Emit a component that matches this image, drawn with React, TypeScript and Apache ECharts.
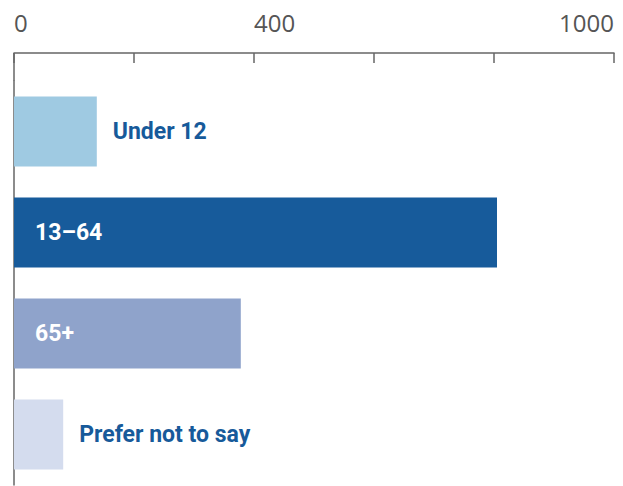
import React, { useEffect, useRef } from "react";
import * as echarts from "echarts";

const categories = ["Under 12", "13–64", "65+", "Prefer not to say"];
const values = [138, 805, 378, 82];
const barColors = ["#9fcae2", "#175b9b", "#8fa3cb", "#d4dcee"];
const labelInside = [false, true, true, false];
const tickLabels = ["0", "400", "1000"];

const GRID_LEFT = 14;
const GRID_TOP = 81;
const AXIS_TOP = 53;

export default function App() {
  const ref = useRef<HTMLDivElement>(null);
  useEffect(() => {
    document.body.style.margin = "0";
    const chart = echarts.init(ref.current!, null, { renderer: "svg" });
    const data = values.map((v, i) => ({
      value: v,
      itemStyle: { color: barColors[i] },
      label: labelInside[i]
        ? { position: "insideLeft", distance: 21, color: "#ffffff" }
        : { position: "right", distance: 16, color: "#175a9a" },
    }));
    chart.setOption({
      animation: false,
      grid: { left: GRID_LEFT, right: 9, top: GRID_TOP, bottom: 1 },
      xAxis: {
        type: "value",
        position: "top",
        offset: GRID_TOP - AXIS_TOP,
        min: 0,
        max: 1000,
        interval: 200,
        axisLine: { show: true, lineStyle: { color: "#666666", width: 1.5 } },
        axisTick: { show: true, inside: true, length: 10, lineStyle: { color: "#666666", width: 1.5 } },
        splitLine: { show: false },
        axisLabel: {
          margin: 19,
          fontFamily: "Open Sans",
          fontSize: 24,
          color: "#555555",
          align: "left",
          alignMaxLabel: "right",
          formatter: (v: number) => (tickLabels.includes(String(v)) ? String(v) : ""),
        },
      },
      yAxis: {
        type: "category",
        inverse: true,
        data: categories,
        axisLine: { show: true, lineStyle: { color: "#666666", width: 1.5 } },
        axisTick: { show: false },
        axisLabel: { show: false },
      },
      graphic: [
        {
          type: "line",
          shape: { x1: GRID_LEFT, y1: AXIS_TOP, x2: GRID_LEFT, y2: GRID_TOP },
          style: { stroke: "#666666", lineWidth: 1.5 },
        },
      ],
      series: [
        {
          type: "bar",
          data,
          barWidth: 70,
          label: {
            show: true,
            formatter: "{b}",
            fontFamily: "Roboto",
            fontWeight: "bold",
            fontSize: 23,
          },
        },
      ],
    });
    return () => chart.dispose();
  }, []);
  return <div ref={ref} style={{ width: 623, height: 486 }} />;
}
